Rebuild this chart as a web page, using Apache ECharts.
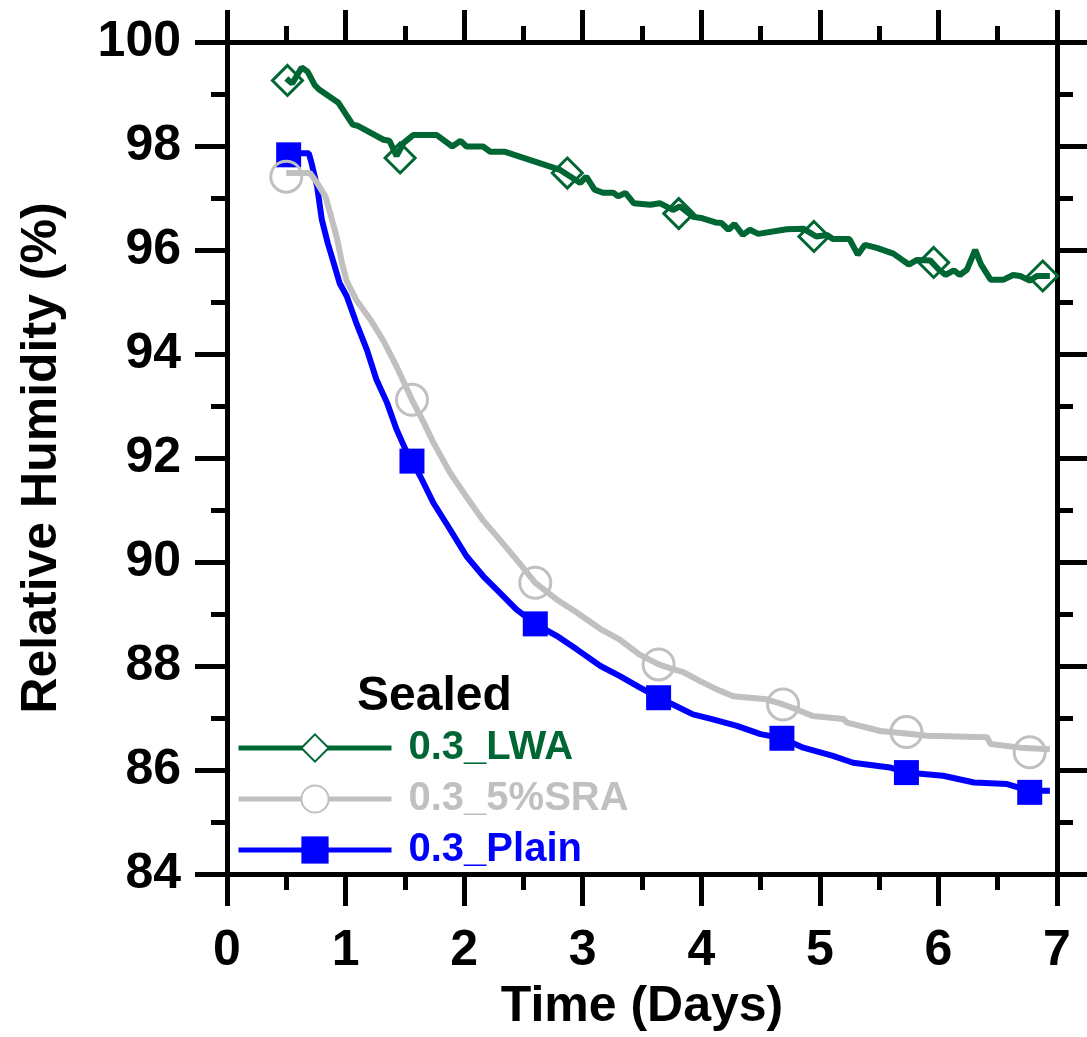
<!DOCTYPE html>
<html>
<head>
<meta charset="utf-8">
<title>Relative Humidity - Sealed</title>
<script src="https://cdn.jsdelivr.net/npm/echarts@6/dist/echarts.min.js"></script>
<style>
  html, body { margin: 0; padding: 0; background: #fff; }
  #chart { width: 1087px; height: 1037px; }
</style>
</head>
<body>
<div id="chart"></div>
<script>
// values: time in days, RH in %
const lwaT = [0.50, 0.55, 0.63, 0.68, 0.74, 0.78, 0.94, 1.06, 1.10, 1.32, 1.37, 1.43, 1.49, 1.57, 1.77, 1.90, 1.97, 2.02, 2.16, 2.22, 2.34, 2.81, 2.98, 3.03, 3.10, 3.17, 3.26, 3.30, 3.36, 3.43, 3.57, 3.65, 3.76, 3.82, 3.93, 4.01, 4.12, 4.17, 4.23, 4.28, 4.35, 4.41, 4.48, 4.72, 4.86, 4.97, 5.06, 5.11, 5.25, 5.32, 5.38, 5.48, 5.62, 5.75, 5.82, 5.93, 6.00, 6.06, 6.13, 6.18, 6.24, 6.31, 6.36, 6.44, 6.55, 6.63, 6.69, 6.77, 6.83, 6.94];
const lwaRH = [99.30, 99.20, 99.51, 99.43, 99.17, 99.08, 98.83, 98.41, 98.39, 98.12, 98.10, 97.81, 98.06, 98.21, 98.21, 97.99, 98.10, 97.99, 97.99, 97.89, 97.89, 97.54, 97.29, 97.41, 97.16, 97.10, 97.10, 97.03, 97.10, 96.90, 96.87, 96.90, 96.77, 96.84, 96.64, 96.61, 96.53, 96.52, 96.39, 96.50, 96.29, 96.39, 96.31, 96.40, 96.41, 96.26, 96.29, 96.21, 96.21, 95.91, 96.10, 96.04, 95.93, 95.72, 95.81, 95.80, 95.63, 95.52, 95.61, 95.52, 95.62, 96.00, 95.72, 95.43, 95.43, 95.52, 95.50, 95.41, 95.50, 95.50];
const lwaMarkT = [0.51, 1.46, 2.87, 3.81, 4.95, 5.96, 6.88];
const lwaMarkRH = [99.26, 97.77, 97.48, 96.70, 96.26, 95.76, 95.50];

const sraT = [0.50, 0.70, 0.76, 0.83, 0.87, 0.93, 0.97, 1.01, 1.09, 1.21, 1.32, 1.43, 1.56, 1.66, 1.74, 1.88, 2.02, 2.16, 2.30, 2.44, 2.60, 2.78, 2.95, 3.15, 3.31, 3.48, 3.64, 3.76, 3.85, 3.99, 4.13, 4.27, 4.55, 4.69, 4.80, 4.94, 5.20, 5.23, 5.51, 5.73, 5.90, 6.41, 6.44, 6.69, 6.94];
const sraRH = [97.48, 97.48, 97.29, 97.03, 96.71, 96.20, 95.75, 95.40, 95.04, 94.66, 94.25, 93.76, 93.12, 92.68, 92.30, 91.72, 91.25, 90.80, 90.43, 90.05, 89.60, 89.28, 89.03, 88.71, 88.51, 88.22, 88.03, 87.94, 87.88, 87.71, 87.55, 87.42, 87.36, 87.26, 87.17, 87.04, 86.98, 86.91, 86.75, 86.70, 86.66, 86.63, 86.50, 86.43, 86.40];
const sraMarkT = [0.50, 1.56, 2.60, 3.64, 4.69, 5.73, 6.77];
const sraMarkRH = [97.41, 93.12, 89.60, 88.03, 87.26, 86.73, 86.34];

const plainT = [0.52, 0.63, 0.69, 0.71, 0.76, 0.80, 0.85, 0.90, 0.95, 1.01, 1.09, 1.18, 1.26, 1.35, 1.43, 1.50, 1.56, 1.63, 1.74, 1.88, 2.02, 2.16, 2.30, 2.44, 2.60, 2.78, 2.95, 3.15, 3.31, 3.48, 3.64, 3.76, 3.93, 4.09, 4.30, 4.50, 4.68, 4.86, 5.11, 5.28, 5.59, 5.73, 6.04, 6.30, 6.58, 6.77, 6.94];
const plainRH = [97.86, 97.86, 97.86, 97.70, 97.22, 96.58, 96.13, 95.75, 95.36, 95.11, 94.60, 94.08, 93.51, 93.06, 92.55, 92.19, 91.94, 91.65, 91.14, 90.63, 90.11, 89.73, 89.41, 89.09, 88.81, 88.58, 88.32, 88.00, 87.81, 87.59, 87.39, 87.26, 87.07, 86.98, 86.85, 86.69, 86.61, 86.43, 86.27, 86.14, 86.05, 85.95, 85.89, 85.76, 85.73, 85.60, 85.60];
const plainMarkT = [0.52, 1.56, 2.60, 3.64, 4.68, 5.73, 6.77];
const plainMarkRH = [97.83, 91.94, 88.81, 87.39, 86.61, 85.95, 85.57];

const names = ['0.3_LWA', '0.3_5%SRA', '0.3_Plain'];
const colors = { '0.3_LWA': '#006633', '0.3_5%SRA': '#c0c0c0', '0.3_Plain': '#0000ff' };

const FONT = '"Liberation Sans", Arial, Helvetica, sans-serif';
const pairs = (xs, ys) => xs.map((x, i) => [x, ys[i]]);

const chart = echarts.init(document.getElementById('chart'), null, { renderer: 'canvas' });

// shared look for the four frame axes
const tick = { show: true, length: 32, lineStyle: { color: '#000', width: 5 } };
const minor = { show: true, splitNumber: 2, length: 16, lineStyle: { color: '#000', width: 5 } };
const line = { show: true, onZero: false, lineStyle: { color: '#000', width: 5 } };

function lineSeries(name, xs, ys, symbol, width) {
  return {
    name: name,
    type: 'line',
    data: pairs(xs, ys),
    symbol: symbol,
    showSymbol: false,
    silent: true,
    lineStyle: { color: colors[name], width: width },
    itemStyle: { color: colors[name] },
    z: 2
  };
}

function markSeries(name, xs, ys, symbol, size, filled) {
  return {
    type: 'scatter',
    data: pairs(xs, ys),
    symbol: symbol,
    symbolSize: size,
    silent: true,
    itemStyle: filled
      ? { color: colors[name], opacity: 1 }
      : { color: 'rgba(0,0,0,0)', borderColor: colors[name], borderWidth: 3, opacity: 1 },
    z: 3
  };
}

chart.setOption({
  animation: false,
  backgroundColor: '#fff',
  textStyle: { fontFamily: FONT },
  grid: { left: 227, top: 42, right: 30, bottom: 162, containLabel: false },
  title: {
    text: 'Sealed',
    left: 352,
    top: 668,
    textStyle: { fontFamily: FONT, fontSize: 48, fontWeight: 'bold', color: '#000' }
  },
  legend: {
    orient: 'vertical',
    left: 231,
    top: 723,
    itemWidth: 153,
    itemHeight: 34,
    itemGap: 11,
    selectedMode: false,
    lineStyle: { width: 5 },
    textStyle: { fontFamily: FONT, fontSize: 40, fontWeight: 'bold', lineHeight: 40, padding: [0, 0, 0, 12] },
    data: names.map(n => ({ name: n, textStyle: { color: colors[n] } }))
  },
  xAxis: [
    {
      type: 'value', position: 'bottom', min: 0, max: 7, interval: 1,
      axisLine: line, axisTick: tick, minorTick: minor, splitLine: { show: false },
      axisLabel: { fontFamily: FONT, fontSize: 50, fontWeight: 'bold', color: '#000', margin: 52 },
      name: 'Time (Days)', nameLocation: 'middle', nameGap: 108,
      nameTextStyle: { fontFamily: FONT, fontSize: 50, fontWeight: 'bold', color: '#000' }
    },
    {
      type: 'value', position: 'top', min: 0, max: 7, interval: 1,
      axisLine: line, axisTick: tick, minorTick: minor, splitLine: { show: false },
      axisLabel: { show: false }
    }
  ],
  yAxis: [
    {
      type: 'value', position: 'left', min: 84, max: 100, interval: 2,
      axisLine: line, axisTick: tick, minorTick: minor, splitLine: { show: false },
      axisLabel: { fontFamily: FONT, fontSize: 50, fontWeight: 'bold', color: '#000', margin: 46 },
      name: 'Relative Humidity (%)', nameLocation: 'middle', nameGap: 160,
      nameTextStyle: { fontFamily: FONT, fontSize: 50, fontWeight: 'bold', color: '#000' }
    },
    {
      type: 'value', position: 'right', min: 84, max: 100, interval: 2,
      axisLine: line, axisTick: tick, minorTick: minor, splitLine: { show: false },
      axisLabel: { show: false }
    }
  ],
  series: [
    lineSeries('0.3_Plain', plainT, plainRH, 'rect', 6),
    lineSeries('0.3_5%SRA', sraT, sraRH, 'emptyCircle', 6),
    lineSeries('0.3_LWA', lwaT, lwaRH, 'emptyDiamond', 6),
    markSeries('0.3_Plain', plainMarkT, plainMarkRH, 'rect', 25, true),
    markSeries('0.3_5%SRA', sraMarkT, sraMarkRH, 'circle', 31, false),
    markSeries('0.3_LWA', lwaMarkT, lwaMarkRH, 'diamond', 30, false)
  ]
});
</script>
</body>
</html>
